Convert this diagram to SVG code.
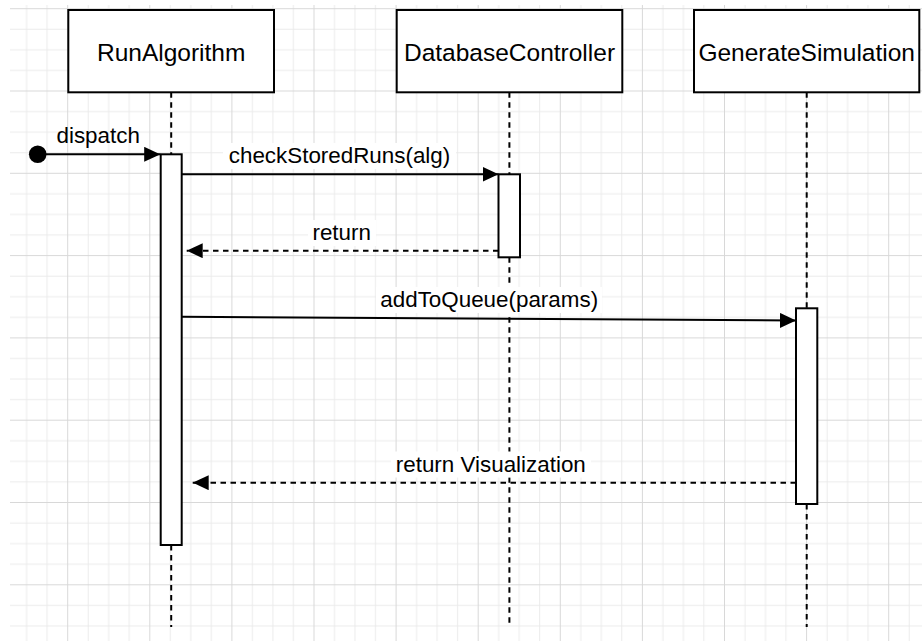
<svg xmlns="http://www.w3.org/2000/svg" width="922" height="641" viewBox="0 0 922 641">
  <style>
    .box{fill:#ffffff;stroke:#000000;stroke-width:2}
    .life{fill:none;stroke:#000000;stroke-width:2;stroke-dasharray:5.5 4.5}
    .msg{fill:none;stroke:#000000;stroke-width:2}
    .ret{fill:none;stroke:#000000;stroke-width:2;stroke-dasharray:5.5 4.5}
    .title{font-family:"Liberation Sans",Arial,Helvetica,sans-serif;font-size:24.5px;fill:#000000;text-anchor:middle}
    .lbl{font-family:"Liberation Sans",Arial,Helvetica,sans-serif;font-size:22.4px;fill:#000000;text-anchor:middle}
    .lblbg{fill:#ffffff;stroke:none}
  </style>
  <defs>
    <pattern id="grid" x="67.2" y="8.2" width="82.1" height="82.3" patternUnits="userSpaceOnUse">
      <path d="M21 0V82.3M41.5 0V82.3M62 0V82.3M0 21.1H82.1M0 41.6H82.1M0 62.2H82.1" stroke="#ebebeb" stroke-width="1" fill="none"/>
      <path d="M0.5 0V82.3M0 0.5H82.1" stroke="#d8d8d8" stroke-width="1" fill="none"/>
    </pattern>
    <marker id="arrow" viewBox="0 0 16 15" refX="16" refY="7.5" markerWidth="16" markerHeight="15" markerUnits="userSpaceOnUse" orient="auto">
      <path d="M0 0L16 7.5L0 15Z" fill="#000000"/>
    </marker>
  </defs>

  <rect width="922" height="641" fill="#ffffff"/>
  <rect x="10" y="5" width="912" height="636" fill="url(#grid)"/>

  <g id="RunAlgorithm">
    <path class="life" d="M171.2 92.3V154M171.2 545V627"/>
    <rect class="box" x="68.3" y="10" width="205.7" height="82.3"/>
    <text class="title" x="171.2" y="61.3">RunAlgorithm</text>
  </g>
  <g id="DatabaseController">
    <path class="life" d="M509.4 92.3V174M509.4 257.3V627"/>
    <rect class="box" x="396.7" y="10" width="225.6" height="82.3"/>
    <text class="title" x="509.5" y="61.3">DatabaseController</text>
  </g>
  <g id="GenerateSimulation">
    <path class="life" d="M806.7 92.3V308.3M806.7 504V627"/>
    <rect class="box" x="694" y="10" width="225.3" height="82.3"/>
    <text class="title" x="806.7" y="61.3">GenerateSimulation</text>
  </g>

  <g id="connectors">
    <g id="dispatch">
      <circle cx="37.7" cy="154.3" r="8.8" fill="#000000"/>
      <line class="msg" x1="37.7" y1="154.3" x2="160.2" y2="154.3" marker-end="url(#arrow)"/>
      <text class="lbl" x="98.2" y="143.3">dispatch</text>
    </g>
    <g id="checkStoredRuns">
      <line class="msg" x1="181.7" y1="174.3" x2="498.5" y2="174.3" marker-end="url(#arrow)"/>
      <rect class="lblbg" x="223" y="143" width="233" height="26"/>
      <text class="lbl" x="339.5" y="163.3">checkStoredRuns(alg)</text>
    </g>
    <g id="return1">
      <line class="ret" x1="498.5" y1="250.7" x2="186.7" y2="250.7" marker-end="url(#arrow)"/>
      <rect class="lblbg" x="308" y="220" width="68" height="26"/>
      <text class="lbl" x="341.7" y="240">return</text>
    </g>
    <g id="addToQueue">
      <line class="msg" x1="181.7" y1="316.7" x2="796" y2="320.5" marker-end="url(#arrow)"/>
      <rect class="lblbg" x="376" y="287" width="226" height="26"/>
      <text class="lbl" x="489.2" y="307.3">addToQueue(params)</text>
    </g>
    <g id="returnVisualization">
      <line class="ret" x1="796" y1="482.7" x2="192.7" y2="482.7" marker-end="url(#arrow)"/>
      <rect class="lblbg" x="391" y="451.5" width="200" height="26"/>
      <text class="lbl" x="490.8" y="471.7">return Visualization</text>
    </g>
  </g>

  <g id="activation-RunAlgorithm">
    <rect class="box" x="160.7" y="154.3" width="21" height="390.7"/>
  </g>
  <g id="activation-DatabaseController">
    <rect class="box" x="498.5" y="174.3" width="21.5" height="83"/>
  </g>
  <g id="activation-GenerateSimulation">
    <rect class="box" x="796" y="308.3" width="21.3" height="195.7"/>
  </g>
</svg>
